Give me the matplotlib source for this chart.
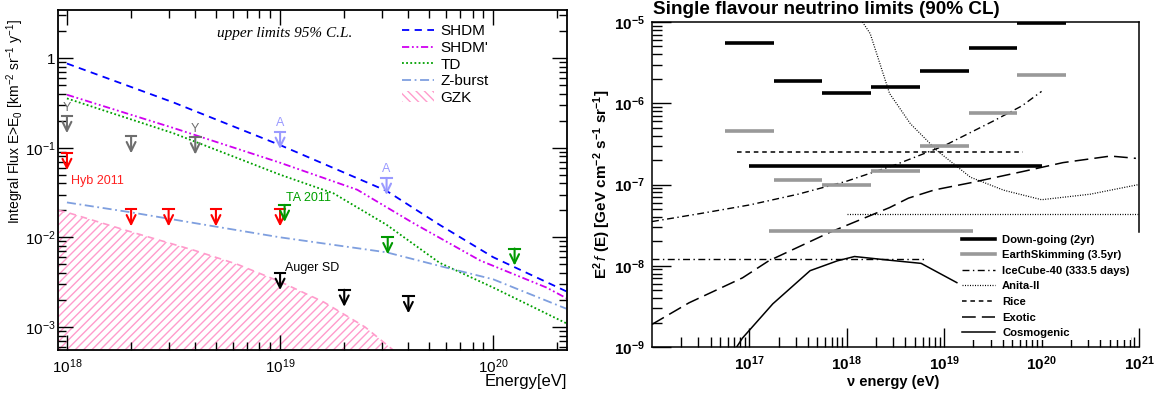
import numpy as np
import matplotlib
matplotlib.use("Agg")
import matplotlib.pyplot as plt
from matplotlib.lines import Line2D
from matplotlib.patches import Patch
from matplotlib.ticker import LogLocator, FixedLocator, FuncFormatter, NullFormatter

plt.rcParams['font.family'] = ['Liberation Sans', 'DejaVu Sans']
plt.rcParams['mathtext.fontset'] = 'custom'
plt.rcParams['mathtext.rm'] = 'Liberation Sans'
plt.rcParams['mathtext.it'] = 'Liberation Sans:italic'
plt.rcParams['mathtext.bf'] = 'Liberation Sans:bold'

# ---- integral flux model curves (left) ----
shdm_E = [1e18, 3.16e18, 1e19, 3.16e19, 5.6e19, 1e20, 2.2e20]
shdm_F = [0.87, 0.32, 0.107, 0.033, 0.0138, 0.006, 0.0025]
shdmp_E = [1e18, 3.16e18, 1e19, 2.3e19, 4.2e19, 8.7e19, 1.78e20, 2.2e20]
shdmp_F = [0.39, 0.166, 0.068, 0.034, 0.0145, 0.0055, 0.00275, 0.0021]
td_E = [1e18, 3.16e18, 1e19, 1.78e19, 3.16e19, 5.6e19, 1e20, 2.2e20]
td_F = [0.355, 0.145, 0.05, 0.031, 0.0138, 0.0052, 0.00275, 0.0011]
zb_E = [1e18, 2e18, 4.2e18, 1e19, 3.16e19, 6e19, 1e20, 2.2e20]
zb_F = [0.0245, 0.019, 0.0141, 0.01, 0.0068, 0.0046, 0.0034, 0.0016]
gzk_E = [9.1e17, 1e18, 2e18, 4e18, 6.3e18, 1e19, 1.6e19, 2.5e19, 3.4e19]
gzk_F = [0.0200, 0.019, 0.0115, 0.0071, 0.005, 0.0032, 0.0019, 0.001, 0.00055]

# ---- upper limits (left) ----
hyb_E = [1e18, 2e18, 3e18, 5e18, 1e19]
hyb_F = [0.087, 0.0205, 0.0205, 0.0205, 0.0205]
ta_E = [1.05e19, 3.2e19, 1.26e20]
ta_F = [0.023, 0.01, 0.0075]
sd_E = [1e19, 2e19, 4e19]
sd_F = [0.004, 0.0026, 0.0022]
yy_E = [1e18, 2e18, 4e18]
yy_F = [0.225, 0.134, 0.13]
yy_tag = ['Y', '', 'Y']
aa_E = [1e19, 3.16e19]
aa_F = [0.15, 0.046]
aa_tag = ['A', 'A']

# ---- neutrino limits (right) ----
bin_lo = [5.6e16, 1.78e17, 5.6e17, 1.78e18, 5.6e18, 1.78e19, 5.6e19]
bin_hi = [1.78e17, 5.6e17, 1.78e18, 5.6e18, 1.78e19, 5.6e19, 1.78e20]
down_lim = [5.5e-6, 1.9e-6, 1.35e-6, 1.6e-6, 2.5e-6, 4.8e-6, 9.8e-6]
es_lim = [4.5e-7, 1.15e-7, 1.0e-7, 1.47e-7, 3.0e-7, 7.6e-7, 2.2e-6]
down_int = (1e17, 1e20, 1.7e-7)
es_int = (1.6e17, 2e19, 2.7e-8)
ic_E = [1e16, 3.16e16, 1e17, 3.16e17, 1e18, 3.16e18, 1e19, 3.16e19, 6.3e19, 1e20]
ic_F = [3.5e-8, 4.4e-8, 5.6e-8, 7.6e-8, 1.1e-7, 1.75e-7, 3.0e-7, 6.0e-7, 9.3e-7, 1.4e-6]
ic_int = (1e16, 6.3e18, 1.2e-8)
anita_E = [1.45e18, 1.74e18, 2.75e18, 4.5e18, 8.5e18, 1.86e19, 4.1e19, 1e20, 3.16e20, 1e21]
anita_F = [1e-5, 7.2e-6, 1.32e-6, 5.6e-7, 2.6e-7, 1.23e-7, 8.5e-8, 6.5e-8, 7.6e-8, 1.0e-7]
anita_flat = (1e18, 1e21, 4.3e-8)
rice = (7.4e16, 6.5e19, 2.5e-7)
exo_E = [1e16, 2.4e16, 8.5e16, 1.58e17, 6.8e17, 2.75e18, 4.3e18, 8e18, 1.86e19, 6.5e19,
         1.66e20, 5.1e20, 9.3e20]
exo_F = [1.9e-9, 3.5e-9, 7.1e-9, 1.15e-8, 2.6e-8, 5.2e-8, 6.8e-8, 8.6e-8, 1.05e-7,
         1.45e-7, 1.86e-7, 2.24e-7, 2.1e-7]
cosmo_E = [7.4e16, 8.5e16, 1.74e17, 4.2e17, 8e17, 1.2e18, 2.75e18, 5.8e18, 1.35e19]
cosmo_F = [1e-9, 1.29e-9, 3.4e-9, 8.7e-9, 1.15e-8, 1.3e-8, 1.17e-8, 1.07e-8, 6.2e-9]
nu_decades = [1e17, 1e18, 1e19, 1e20, 1e21]

fig = plt.figure(figsize=(11.72, 3.96), dpi=100)
ax1 = fig.add_axes([0.0495, 0.1162, 0.4343, 0.8585])
ax2 = fig.add_axes([0.5563, 0.1237, 0.4155, 0.8207])


def pow_fmt(v, pos, one=True):
    e = int(round(np.log10(v)))
    if e == 0 and one:
        return '1'
    return r'$\mathregular{10^{%d}}$' % e


def upper_limit(ax, E, F, color, tag=''):
    ax.plot([E / 1.06, E * 1.06], [F, F], color=color, lw=1.5)
    ax.annotate('', xy=(E, F / 1.55), xytext=(E, F),
                arrowprops=dict(arrowstyle='->,head_length=0.65,head_width=0.32',
                                mutation_scale=10, color=color, lw=1.5,
                                shrinkA=0, shrinkB=0))
    if tag:
        ax.text(E, F * 1.07, tag, color=color, ha='center', va='bottom', fontsize=9)


# ---------------- left panel ----------------
ax1.set_xscale('log')
ax1.set_yscale('log')
ax1.fill_between(gzk_E, gzk_F, 1e-4, facecolor='none', edgecolor='#ff9ccc',
                 hatch='////', linewidth=0)
ax1.plot(gzk_E, gzk_F, color='#ff9ccc', ls=(0, (4, 3)), lw=1.2)
ax1.plot(shdm_E, shdm_F, color='#0000ff', ls=(0, (4, 3)), lw=1.3)
ax1.plot(shdmp_E, shdmp_F, color='#d000f0', ls=(0, (4, 1.5, 1, 1.5, 1, 1.5)), lw=1.3)
ax1.plot(td_E, td_F, color='#00a000', ls=(0, (1, 1.3)), lw=1.3)
ax1.plot(zb_E, zb_F, color='#7f9fdf', ls=(0, (5, 2, 1, 2)), lw=1.3)

for E, F in zip(hyb_E, hyb_F):
    upper_limit(ax1, E, F, '#ff0000')
for E, F in zip(ta_E, ta_F):
    upper_limit(ax1, E, F, '#009900')
for E, F in zip(sd_E, sd_F):
    upper_limit(ax1, E, F, 'black')
for E, F, t in zip(yy_E, yy_F, yy_tag):
    upper_limit(ax1, E, F, '#6e6e6e', t)
for E, F, t in zip(aa_E, aa_F, aa_tag):
    upper_limit(ax1, E, F, '#9a9aff', t)

ax1.text(1.05e18, 0.043, 'Hyb 2011', color='#ff2020', fontsize=9, va='center')
ax1.text(1.07e19, 0.0272, 'TA 2011', color='#00a000', fontsize=9, va='center')
ax1.text(1.06e19, 0.0046, 'Auger SD', color='black', fontsize=9, va='center')
ax1.text(0.446, 0.932, 'upper limits 95% C.L.', transform=ax1.transAxes,
         family='Liberation Serif', style='italic', fontsize=11, ha='center', va='center')

ax1.set_xlim(9.08e17, 2.22e20)
ax1.set_ylim(5.53e-4, 3.44)
ax1.xaxis.set_major_locator(LogLocator(base=10))
ax1.xaxis.set_minor_locator(LogLocator(base=10, subs=np.arange(2, 10)))
ax1.yaxis.set_major_locator(LogLocator(base=10))
ax1.yaxis.set_minor_locator(LogLocator(base=10, subs=np.arange(2, 10)))
ax1.xaxis.set_major_formatter(FuncFormatter(pow_fmt))
ax1.yaxis.set_major_formatter(FuncFormatter(pow_fmt))
ax1.xaxis.set_minor_formatter(NullFormatter())
ax1.yaxis.set_minor_formatter(NullFormatter())
ax1.tick_params(which='both', direction='in', top=True, right=True, labelsize=11, width=1)
ax1.tick_params(which='major', length=11)
ax1.tick_params(axis='x', which='major', pad=5)
ax1.tick_params(axis='y', which='major', pad=2)
ax1.tick_params(which='minor', length=6)
for s in ax1.spines.values():
    s.set_linewidth(1.3)
fig.text(15 / 1172, 1 - 122 / 396, r'Integral Flux E>E$_0$ [km$^{-2}$ sr$^{-1}$ y$^{-1}$]',
         fontsize=10, rotation=90, ha='center', va='center')
ax1.set_xlabel('Energy[eV]', fontsize=12, ha='right', labelpad=0)
ax1.xaxis.set_label_coords(1.0, -0.07)

h1 = [Line2D([], [], color='#0000ff', ls=(0, (4, 3)), lw=1.3),
      Line2D([], [], color='#d000f0', ls=(0, (4, 1.5, 1, 1.5, 1, 1.5)), lw=1.3),
      Line2D([], [], color='#00a000', ls=(0, (1, 1.3)), lw=1.3),
      Line2D([], [], color='#7f9fdf', ls=(0, (5, 2, 1, 2)), lw=1.3),
      Patch(facecolor='none', edgecolor='#ff9ccc', hatch='\\\\\\\\', lw=0)]
ax1.legend(h1, ['SHDM', "SHDM'", 'TD', 'Z-burst', 'GZK'], loc='upper left',
           bbox_to_anchor=(0.661, 0.98), frameon=False, fontsize=11,
           handlelength=2.1, handletextpad=0.4, labelspacing=0.17, borderpad=0)

# ---------------- right panel ----------------
ax2.set_xscale('log')
ax2.set_yscale('log')
ax2.plot(exo_E, exo_F, color='black', ls=(0, (9, 4)), lw=1.1)
ax2.plot(cosmo_E, cosmo_F, color='black', lw=1.1)
ax2.plot(ic_E, ic_F, color='black', ls=(0, (5, 2.5, 1, 2.5)), lw=1.0)
ax2.hlines(ic_int[2], ic_int[0], ic_int[1], color='black', ls=(0, (5, 2.5, 1, 2.5)), lw=1.0)
ax2.plot(anita_E, anita_F, color='black', ls=(0, (0.8, 1.2)), lw=0.9)
ax2.hlines(anita_flat[2], anita_flat[0], anita_flat[1], color='black',
           ls=(0, (0.8, 1.2)), lw=0.9)
ax2.hlines(rice[2], rice[0], rice[1], color='black', ls=(0, (3, 2.5)), lw=1.1)
ax2.hlines(es_lim, bin_lo, bin_hi, color='#999999', lw=2.6)
ax2.hlines(es_int[2], es_int[0], es_int[1], color='#999999', lw=2.6)
ax2.hlines(down_lim, bin_lo, bin_hi, color='black', lw=2.6)
ax2.hlines(down_int[2], down_int[0], down_int[1], color='black', lw=2.6)

ax2.set_xlim(1e16, 1e21)
ax2.set_ylim(1e-9, 1e-5)
ax2.xaxis.set_major_locator(FixedLocator(nu_decades))
ax2.xaxis.set_minor_locator(LogLocator(base=10, subs=np.arange(2, 10)))
ax2.yaxis.set_major_locator(LogLocator(base=10))
ax2.yaxis.set_minor_locator(LogLocator(base=10, subs=np.arange(2, 10)))
ax2.xaxis.set_major_formatter(FuncFormatter(lambda v, p: r'$\mathbf{10^{%d}}$' % round(np.log10(v))))
ax2.yaxis.set_major_formatter(FuncFormatter(lambda v, p: r'$\mathbf{10^{%d}}$' % round(np.log10(v))))
ax2.xaxis.set_minor_formatter(NullFormatter())
ax2.yaxis.set_minor_formatter(NullFormatter())
ax2.tick_params(which='both', direction='in', labelsize=11, width=1)
ax2.tick_params(which='major', length=14, pad=5)
ax2.tick_params(which='minor', length=7)
for s in ax2.spines.values():
    s.set_linewidth(1.1)
# the legend box sits over the lower part of the right frame
ax2.spines['right'].set_bounds(2.6e-8, 1e-5)
ax2.set_ylabel(r'$\mathbf{E^2}\,$$f$ $\mathbf{(E)\ [GeV\ cm^{-2}\ s^{-1}\ sr^{-1}]}$',
               fontsize=11, fontweight='bold')
ax2.yaxis.set_label_coords(-0.08, 0.5)
ax2.set_xlabel('\u03bd energy (eV)', fontsize=10.5, fontweight='bold', ha='right', labelpad=0)
ax2.xaxis.set_label_coords(0.59, -0.085)
fig.text(0.5575, 1 - 14 / 396, 'Single flavour neutrino limits (90% CL)', fontsize=13.6,
         fontweight='bold', ha='left', va='baseline')

h2 = [Line2D([], [], color='black', lw=2.6),
      Line2D([], [], color='#999999', lw=2.6),
      Line2D([], [], color='black', ls=(0, (5, 2.5, 1, 2.5)), lw=1.0),
      Line2D([], [], color='black', ls=(0, (0.8, 1.2)), lw=0.9),
      Line2D([], [], color='black', ls=(0, (3, 2.5)), lw=1.1),
      Line2D([], [], color='black', ls=(0, (9, 4)), lw=1.1),
      Line2D([], [], color='black', lw=1.1)]
leg2 = ax2.legend(h2, ['Down-going (2yr)', 'EarthSkimming (3.5yr)', 'IceCube-40 (333.5 days)',
                       'Anita-II', 'Rice', 'Exotic', 'Cosmogenic'],
                  loc='upper left', bbox_to_anchor=(0.819, 0.412),
                  bbox_transform=fig.transFigure, frameon=True, fancybox=False,
                  edgecolor='none', facecolor='white', framealpha=1,
                  prop={'weight': 'bold', 'size': 8.1}, handlelength=3.0,
                  handletextpad=0.6, labelspacing=0.5, borderpad=0.15, borderaxespad=0)
leg2.set_zorder(10)

fig.savefig('out.png', dpi=100)
